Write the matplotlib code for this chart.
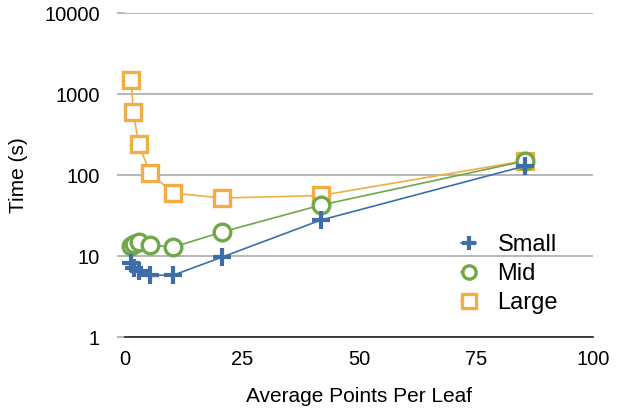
import matplotlib.pyplot as plt

# data
x_small = [1.3, 2.0, 3.0, 5.4, 10.3, 20.7, 41.8, 85.3]
small = [8.2, 7.1, 6.5, 5.8, 5.8, 9.7, 27.8, 129]

x_mid = [1.3, 2.0, 3.0, 5.4, 10.3, 20.7, 41.8, 85.3]
mid = [13.3, 14.0, 14.9, 13.7, 12.9, 19.8, 42.6, 149]

x_large = [1.3, 1.8, 2.9, 5.4, 10.3, 20.7, 41.8, 85.3]
large = [1480, 605, 240, 105, 60, 52, 56, 150]

yticks = [1, 10, 100, 1000, 10000]
xticks = [0, 25, 50, 75, 100]

plt.rcParams['font.family'] = ['Liberation Sans', 'DejaVu Sans']

fig = plt.figure(figsize=(6.23, 4.11), dpi=100)
ax = fig.add_axes([0.2006, 0.18, 0.752, 0.788])

blue = "#3d6ea8"
green = "#6fa84a"
orange = "#f2ae45"

ax.plot(x_large, large, color=orange, lw=1.2, marker="s", ms=12,
        mfc="white", mec=orange, mew=2.4, label="Large", zorder=3, clip_on=False)
ax.plot(x_mid, mid, color=green, lw=1.2, marker="o", ms=12,
        mfc="white", mec=green, mew=2.4, label="Mid", zorder=4, clip_on=False)
ax.plot(x_small, small, color=blue, lw=1.2, marker="+", ms=13,
        mew=3, label="Small", zorder=5, clip_on=False)

ax.set_yscale("log")
ax.set_ylim(1, 10000)
ax.set_xlim(0, 100)
ax.set_yticks(yticks)
ax.set_yticklabels([str(t) for t in yticks])
ax.minorticks_off()
ax.set_xticks(xticks)
ax.set_xticklabels([str(t) for t in xticks])

ax.grid(axis="y", color="#aaaaaa", lw=1.2)
ax.set_axisbelow(True)
for s in ["top", "right", "left"]:
    ax.spines[s].set_visible(False)
ax.spines["bottom"].set_color("#222222")
ax.spines["bottom"].set_linewidth(1.2)
ax.tick_params(axis="x", length=0, pad=9, labelsize=14.5)
ax.tick_params(axis="y", length=6, color="#aaaaaa", width=1.2, pad=12, labelsize=14.5)

ax.set_xlabel("Average Points Per Leaf", fontsize=15, labelpad=13)
ax.set_ylabel("Time (s)", fontsize=15, labelpad=12)

handles, labels = ax.get_legend_handles_labels()
ax.legend(handles[::-1], labels[::-1], loc="upper left", bbox_to_anchor=(0.740, 0.431),
          bbox_transform=fig.transFigure, borderaxespad=0, borderpad=0,
          frameon=False, fontsize=17, handlelength=0.65, handletextpad=0.9,
          labelspacing=0.3, markerscale=0.8)

fig.savefig("out.png", dpi=100)
